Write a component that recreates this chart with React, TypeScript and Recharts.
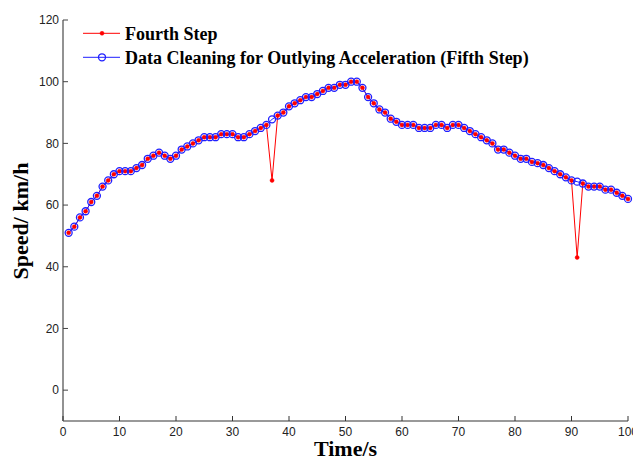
import React from 'react';
import { LineChart, Line, XAxis, YAxis, Label } from 'recharts';

const times = [
  1, 2, 3, 4, 5, 6, 7, 8, 9, 10,
  11, 12, 13, 14, 15, 16, 17, 18, 19, 20,
  21, 22, 23, 24, 25, 26, 27, 28, 29, 30,
  31, 32, 33, 34, 35, 36, 37, 38, 39, 40,
  41, 42, 43, 44, 45, 46, 47, 48, 49, 50,
  51, 52, 53, 54, 55, 56, 57, 58, 59, 60,
  61, 62, 63, 64, 65, 66, 67, 68, 69, 70,
  71, 72, 73, 74, 75, 76, 77, 78, 79, 80,
  81, 82, 83, 84, 85, 86, 87, 88, 89, 90,
  91, 92, 93, 94, 95, 96, 97, 98, 99, 100,
];

const fourthStep = [
  51, 53, 56, 58, 61, 63, 66, 68, 70, 71,
  71, 71, 72, 73, 75, 76, 77, 76, 75, 76,
  78, 79, 80, 81, 82, 82, 82, 83, 83, 83,
  82, 82, 83, 84, 85, 86, 68, 89, 90, 92,
  93, 94, 95, 95, 96, 97, 98, 98, 99, 99,
  100, 100, 98, 95, 93, 91, 90, 88, 87, 86,
  86, 86, 85, 85, 85, 86, 86, 85, 86, 86,
  85, 84, 83, 82, 81, 80, 78, 78, 77, 76,
  75, 75, 74, 73.6, 73, 72, 71, 70, 69, 68,
  43, 67, 66, 66, 66, 65, 65, 64, 63, 62,
];

const fifthStep = [
  51, 53, 56, 58, 61, 63, 66, 68, 70, 71,
  71, 71, 72, 73, 75, 76, 77, 76, 75, 76,
  78, 79, 80, 81, 82, 82, 82, 83, 83, 83,
  82, 82, 83, 84, 85, 86, 87.8, 89, 90, 92,
  93, 94, 95, 95, 96, 97, 98, 98, 99, 99,
  100, 100, 98, 95, 93, 91, 90, 88, 87, 86,
  86, 86, 85, 85, 85, 86, 86, 85, 86, 86,
  85, 84, 83, 82, 81, 80, 78, 78, 77, 76,
  75, 75, 74, 73.6, 73, 72, 71, 70, 69, 68,
  67.6, 67, 66, 66, 66, 65, 65, 64, 63, 62,
];

const xTicks = [0, 10, 20, 30, 40, 50, 60, 70, 80, 90, 100];
const yTicks = [0, 20, 40, 60, 80, 100, 120];

const seriesNames = ['Fourth Step', 'Data Cleaning for Outlying Acceleration (Fifth Step)'];

const data = times.map((t, i) => ({ t, fourth: fourthStep[i], fifth: fifthStep[i] }));

const RED = '#ff0000';
const BLUE = '#1f1fff';
const AXIS = '#777777';
const TICKFONT = '"Liberation Sans", Arial, sans-serif';
const SERIF = '"Liberation Serif", "Times New Roman", serif';

const XTick = (props: any) => {
  const { x, y, payload } = props;
  return (
    <g>
      <line x1={x} x2={x} y1={y} y2={y - 5} stroke="#333" strokeWidth={1} />
      <text x={x} y={y + 15} textAnchor="middle" fontFamily={TICKFONT} fontSize={12} fill="#222">
        {payload.value}
      </text>
    </g>
  );
};

const YTick = (props: any) => {
  const { x, y, payload } = props;
  return (
    <g>
      <line x1={x} x2={x + 5} y1={y} y2={y} stroke="#444" strokeWidth={1} />
      <text x={x - 4} y={y + 4.3} textAnchor="end" fontFamily={TICKFONT} fontSize={12} fill="#222">
        {payload.value}
      </text>
    </g>
  );
};

const LegendOverlay = () => (
  <svg
    width={633}
    height={75}
    style={{ position: 'absolute', left: 0, top: 0, pointerEvents: 'none' }}
  >
    {seriesNames.map((name, i) => {
      const cy = 33.3 + i * 24;
      return (
        <g key={i}>
          <line x1={83} x2={120} y1={cy} y2={cy} stroke={i === 0 ? RED : BLUE} strokeWidth={1} />
          {i === 0 ? (
            <circle cx={102} cy={cy} r={2} fill={RED} stroke={RED} strokeWidth={0.5} />
          ) : (
            <circle cx={102} cy={cy} r={3.5} fill="none" stroke={BLUE} strokeWidth={1.3} />
          )}
          <text x={125} y={cy + 6.5} fontFamily={SERIF} fontWeight="bold" fontSize={18} fill="#000">
            {name}
          </text>
        </g>
      );
    })}
  </svg>
);

export default function App() {
  return (
    <div style={{ position: 'absolute', left: 0, top: 0, width: 633, height: 461, background: '#fff' }}>
      <LineChart
        width={633}
        height={461}
        data={data}
        margin={{ top: 20, right: 5, bottom: 10, left: 13 }}
      >
        <XAxis
          dataKey="t"
          type="number"
          domain={[0, 100]}
          ticks={xTicks}
          interval={0}
          height={30}
          tickSize={0}
          tickMargin={0}
          tickLine={false}
          tick={<XTick />}
          axisLine={{ stroke: AXIS, strokeWidth: 1.6 }}
        >
          <Label
            content={(p: any) => {
              const vb = p.viewBox || {};
              return (
                <text
                  x={(vb.x || 63) + (vb.width || 565) / 2}
                  y={456}
                  textAnchor="middle"
                  fontFamily={SERIF}
                  fontWeight="bold"
                  fontSize={22}
                  fill="#000"
                >
                  Time/s
                </text>
              );
            }}
          />
        </XAxis>
        <YAxis
          type="number"
          domain={[-10, 120]}
          ticks={yTicks}
          interval={0}
          width={50}
          tickSize={0}
          tickMargin={0}
          tickLine={false}
          tick={<YTick />}
          axisLine={{ stroke: AXIS, strokeWidth: 1.6 }}
        >
          <Label
            content={() => (
              <text
                x={28}
                y={221}
                textAnchor="middle"
                transform="rotate(-90 28 221)"
                fontFamily={SERIF}
                fontWeight="bold"
                fontSize={22}
                fill="#000"
              >
                Speed/ km/h
              </text>
            )}
          />
        </YAxis>
        <Line
          name={seriesNames[0]}
          dataKey="fourth"
          stroke={RED}
          strokeWidth={1}
          dot={{ r: 2, fill: RED, stroke: RED, strokeWidth: 0.5 }}
          activeDot={false}
          isAnimationActive={false}
        />
        <Line
          name={seriesNames[1]}
          dataKey="fifth"
          stroke={BLUE}
          strokeWidth={1}
          dot={{ r: 3.5, fill: 'none', stroke: BLUE, strokeWidth: 1.3 }}
          activeDot={false}
          isAnimationActive={false}
        />
      </LineChart>
      <LegendOverlay />
    </div>
  );
}
